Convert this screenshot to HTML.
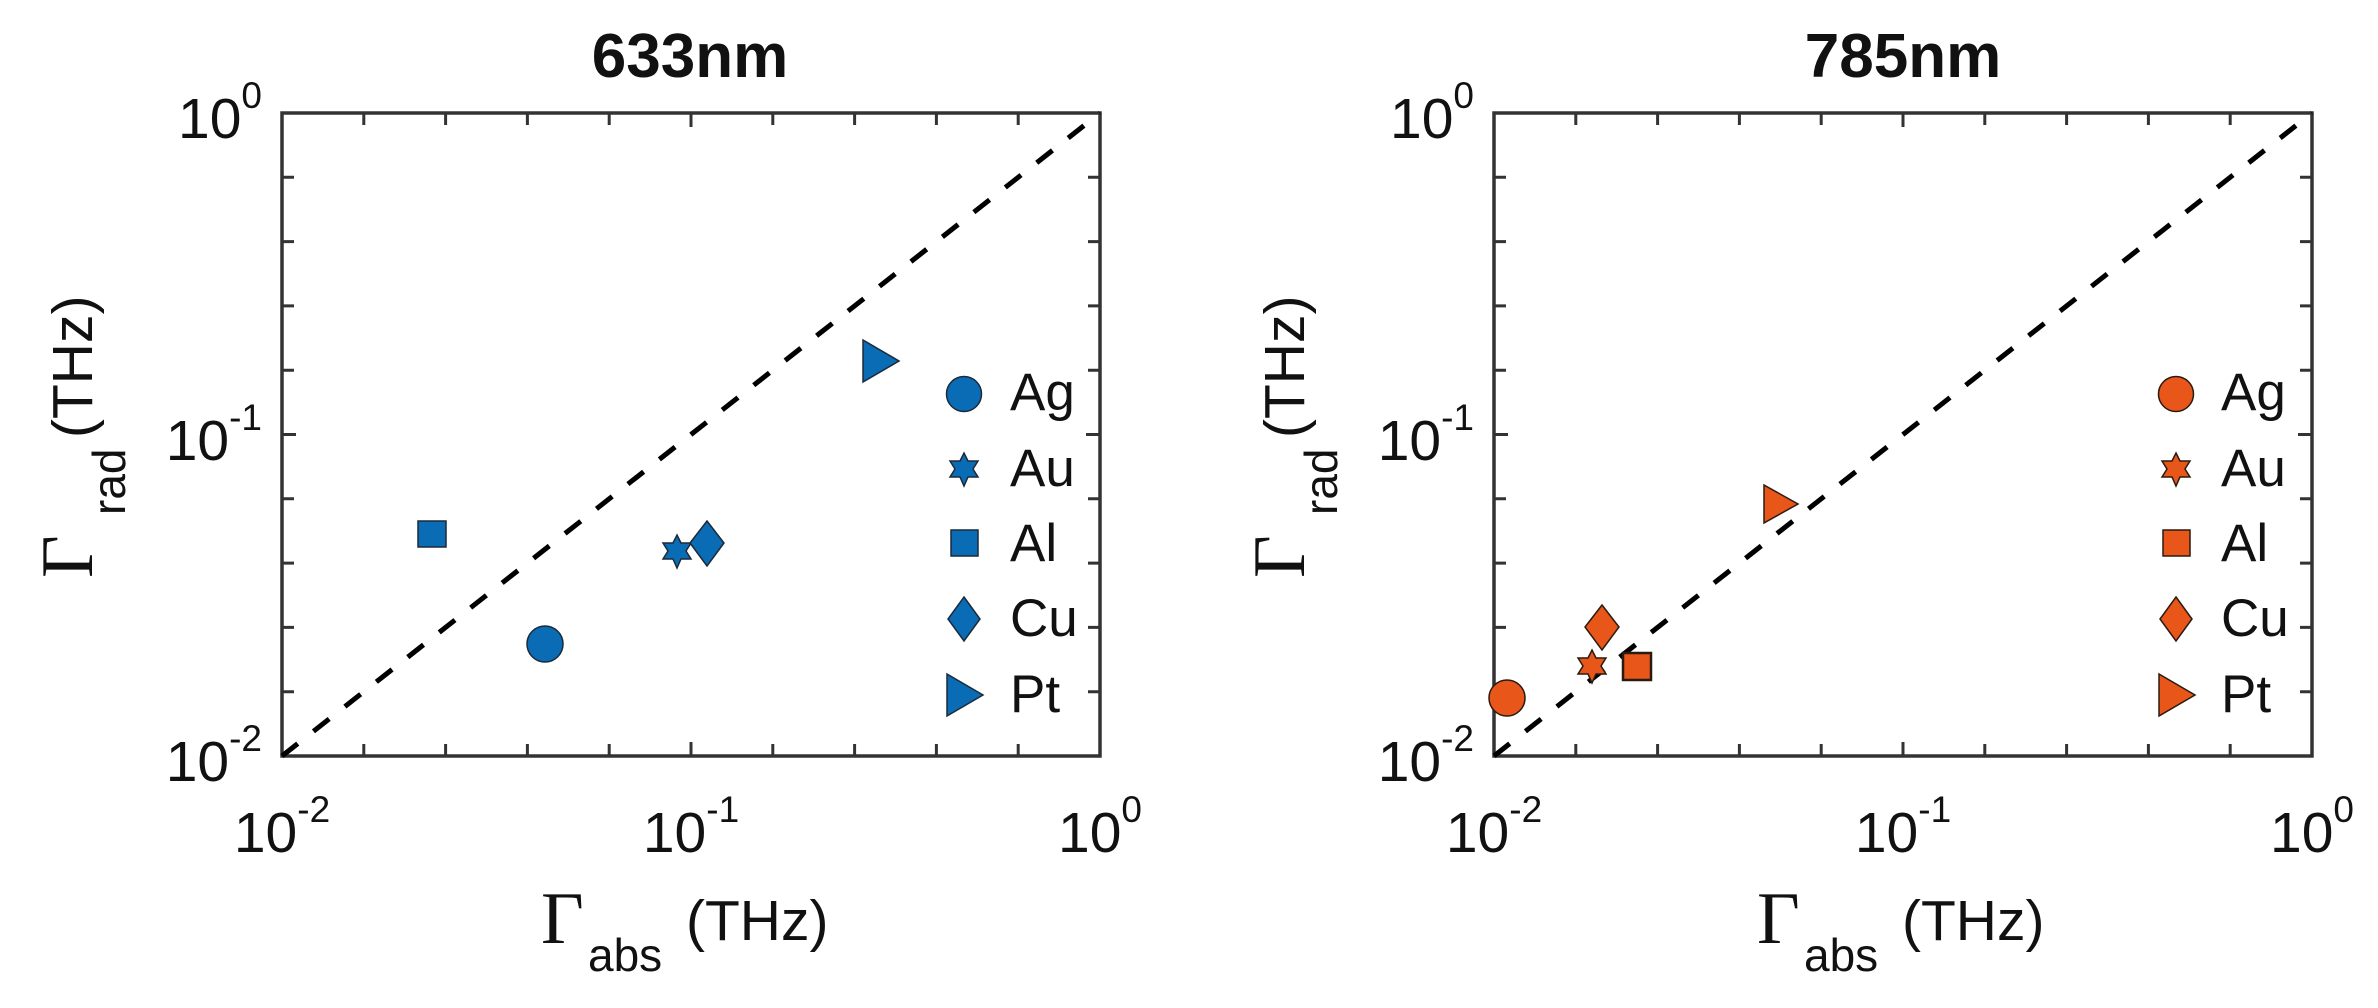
<!DOCTYPE html>
<html><head><meta charset="utf-8"><style>
html,body{margin:0;padding:0;background:#fff;}
svg{display:block;}
text{font-family:"Liberation Sans",sans-serif;fill:#111;}
.t{font-size:57px;}
.sup{font-size:37px;}
.lg{font-size:53px;}
.g{font-family:"Liberation Serif",serif;font-size:74px;}
.sub{font-size:46px;}
.ttl{font-size:62px;font-weight:bold;}
</style></head><body>
<svg width="2378" height="1008" viewBox="0 0 2378 1008" xmlns="http://www.w3.org/2000/svg">
<defs>
<g id="ticks" stroke="#333" stroke-width="3">
  <path d="M81.8,0v12M163.6,0v12M245.4,0v12M327.2,0v12M409,0v14M490.8,0v12M572.6,0v12M654.4,0v12M736.2,0v12"/>
  <path d="M81.8,643v-12M163.6,643v-12M245.4,643v-12M327.2,643v-12M409,643v-14M490.8,643v-12M572.6,643v-12M654.4,643v-12M736.2,643v-12"/>
  <path d="M0,64.3h12M0,128.6h12M0,192.9h12M0,257.2h12M0,321.5h14M0,385.8h12M0,450.1h12M0,514.4h12M0,578.7h12"/>
  <path d="M818,64.3h-12M818,128.6h-12M818,192.9h-12M818,257.2h-12M818,321.5h-14M818,385.8h-12M818,450.1h-12M818,514.4h-12M818,578.7h-12"/>
  <rect x="0" y="0" width="818" height="643" fill="none" stroke-width="3.5"/>
  <line x1="0" y1="643" x2="818" y2="0" stroke="#000" stroke-width="5" stroke-dasharray="20 20"/>
</g>
</defs>

<!-- LEFT PLOT -->
<use href="#ticks" x="282" y="113"/>
<text class="ttl" x="690" y="77" text-anchor="middle">633nm</text>
<text class="t" x="262" y="138" text-anchor="end">10<tspan class="sup" dy="-30">0</tspan></text>
<text class="t" x="262" y="460" text-anchor="end">10<tspan class="sup" dy="-30">-1</tspan></text>
<text class="t" x="262" y="781" text-anchor="end">10<tspan class="sup" dy="-30">-2</tspan></text>
<text class="t" x="282" y="852" text-anchor="middle">10<tspan class="sup" dy="-30">-2</tspan></text>
<text class="t" x="691" y="852" text-anchor="middle">10<tspan class="sup" dy="-30">-1</tspan></text>
<text class="t" x="1100" y="852" text-anchor="middle">10<tspan class="sup" dy="-30">0</tspan></text>
<text class="g" x="541" y="943">Γ</text>
<text class="sub" x="588" y="971">abs</text>
<text class="t" x="686" y="940">(THz)</text>
<text class="g" transform="translate(92,578) rotate(-90)">Γ</text>
<text class="sub" transform="translate(125,515) rotate(-90)">rad</text>
<text class="t" transform="translate(92,438) rotate(-90)">(THz)</text>
<g fill="#0a6cb4" stroke="#1a2a3a" stroke-width="1.5">
  <rect x="418" y="521" width="28" height="26"/>
  <circle cx="545" cy="644" r="18"/>
  <polygon points="677,535 681,543 691,543 686,551 691,559 681,559 677,568 673,559 663,559 668,551 663,543 673,543"/>
  <polygon points="707,521 724,543 707,566 690,543"/>
  <polygon points="863,340 899,361 863,382"/>
  <circle cx="964" cy="394" r="17.5"/>
  <polygon points="964,453 968,461 978,461 973,469 978,477 968,477 964,486 960,477 950,477 955,469 950,461 960,461"/>
  <rect x="951" y="530" width="27" height="26"/>
  <polygon points="964,597 980,619 964,641 948,619"/>
  <polygon points="947,674 983,695 947,716"/>
</g>
<text class="lg" x="1010" y="410">Ag</text>
<text class="lg" x="1010" y="486">Au</text>
<text class="lg" x="1010" y="561">Al</text>
<text class="lg" x="1010" y="636">Cu</text>
<text class="lg" x="1010" y="712">Pt</text>

<!-- RIGHT PLOT -->
<use href="#ticks" x="1494" y="113"/>
<text class="ttl" x="1903" y="77" text-anchor="middle">785nm</text>
<text class="t" x="1474" y="138" text-anchor="end">10<tspan class="sup" dy="-30">0</tspan></text>
<text class="t" x="1474" y="460" text-anchor="end">10<tspan class="sup" dy="-30">-1</tspan></text>
<text class="t" x="1474" y="781" text-anchor="end">10<tspan class="sup" dy="-30">-2</tspan></text>
<text class="t" x="1494" y="852" text-anchor="middle">10<tspan class="sup" dy="-30">-2</tspan></text>
<text class="t" x="1903" y="852" text-anchor="middle">10<tspan class="sup" dy="-30">-1</tspan></text>
<text class="t" x="2312" y="852" text-anchor="middle">10<tspan class="sup" dy="-30">0</tspan></text>
<text class="g" x="1757" y="943">Γ</text>
<text class="sub" x="1804" y="971">abs</text>
<text class="t" x="1902" y="940">(THz)</text>
<text class="g" transform="translate(1304,578) rotate(-90)">Γ</text>
<text class="sub" transform="translate(1337,515) rotate(-90)">rad</text>
<text class="t" transform="translate(1304,438) rotate(-90)">(THz)</text>
<g fill="#e8561a" stroke="#2a1a10" stroke-width="1.5">
  <circle cx="1507" cy="698" r="18"/>
  <polygon points="1592,650 1596,658 1606,658 1601,666 1606,674 1596,674 1592,683 1588,674 1578,674 1583,666 1578,658 1588,658"/>
  <rect x="1623" y="653" width="28" height="27" stroke-width="2.5"/>
  <polygon points="1602,605 1619,627 1602,650 1585,627"/>
  <polygon points="1764,485 1798,504 1764,523"/>
  <circle cx="2176" cy="394" r="17.5"/>
  <polygon points="2176,453 2180,461 2190,461 2185,469 2190,477 2180,477 2176,486 2172,477 2162,477 2167,469 2162,461 2172,461"/>
  <rect x="2163" y="530" width="27" height="26"/>
  <polygon points="2176,597 2192,619 2176,641 2160,619"/>
  <polygon points="2159,674 2195,695 2159,716"/>
</g>
<text class="lg" x="2221" y="410">Ag</text>
<text class="lg" x="2221" y="486">Au</text>
<text class="lg" x="2221" y="561">Al</text>
<text class="lg" x="2221" y="636">Cu</text>
<text class="lg" x="2221" y="712">Pt</text>
</svg>
</body></html>
